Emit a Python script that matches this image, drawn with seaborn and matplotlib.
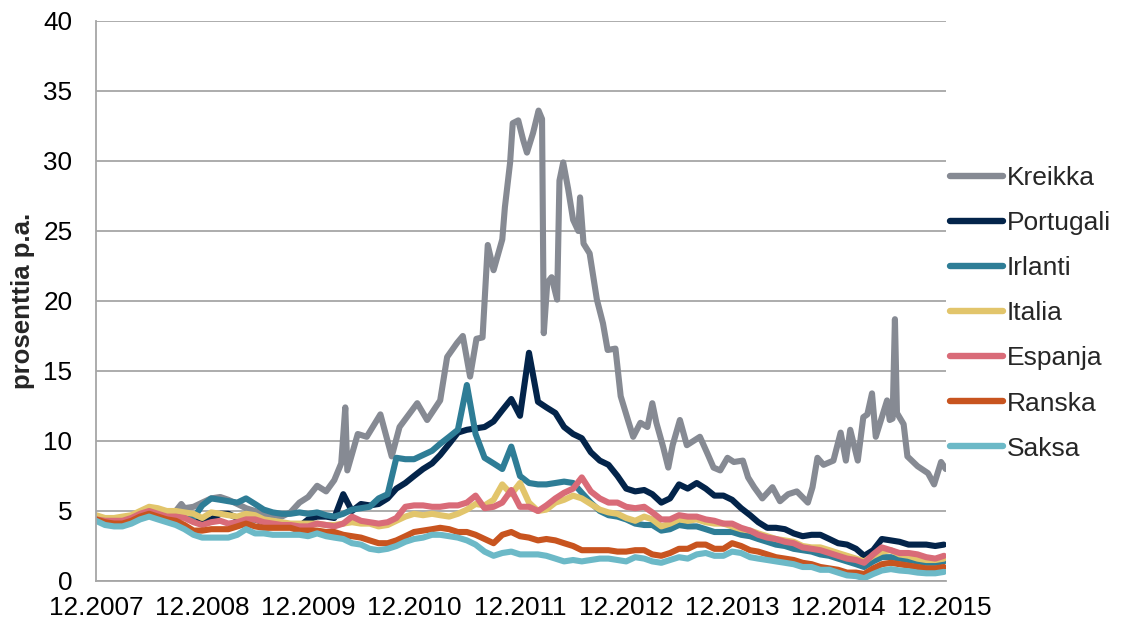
import matplotlib
matplotlib.use("Agg")
import matplotlib.pyplot as plt
import matplotlib.dates as mdates
import pandas as pd
import seaborn as sns

countries = ["Kreikka", "Portugali", "Irlanti", "Italia", "Espanja", "Ranska", "Saksa"]
colors = ["#868a93", "#03244a", "#2e7d96", "#e2c56b", "#d96b78", "#c8541f", "#6cb9c7"]

# monthly observations 12.2007 - 12.2015
months = pd.date_range("2007-12-01", "2015-12-01", freq="MS")

pt = [4.6, 4.4, 4.4, 4.5, 4.6, 4.9, 5.1, 5.0, 4.8, 4.8, 4.7, 4.5,
      4.3, 4.4, 4.8, 4.8, 4.5, 4.4, 4.4, 4.2, 4.1, 4.0, 3.9, 3.9,
      4.4, 4.6, 4.6, 4.5, 6.2, 5.0, 5.5, 5.4, 5.5, 5.9, 6.6, 7.0,
      7.5, 8.0, 8.4, 9.0, 9.8, 10.6, 10.8, 10.9, 11.0, 11.4, 12.2, 13.0,
      11.8, 16.3, 12.8, 12.4, 12.0, 11.0, 10.5, 10.2, 9.2, 8.6, 8.3, 7.5,
      6.6, 6.4, 6.5, 6.2, 5.6, 5.9, 6.9, 6.6, 7.0, 6.6, 6.1, 6.1,
      5.8, 5.2, 4.7, 4.2, 3.8, 3.8, 3.7, 3.4, 3.2, 3.3, 3.3, 3.0,
      2.7, 2.6, 2.3, 1.8, 2.2, 3.0, 2.9, 2.8, 2.6, 2.6, 2.6, 2.5, 2.6]

ie = [4.5, 4.4, 4.4, 4.5, 4.6, 4.8, 5.0, 4.9, 4.7, 4.7, 4.6, 4.5,
      5.4, 5.9, 5.8, 5.7, 5.6, 5.9, 5.5, 5.1, 4.9, 4.8, 4.8, 4.9,
      4.8, 4.9, 4.7, 4.6, 4.8, 5.1, 5.2, 5.3, 5.9, 6.2, 8.8, 8.7,
      8.7, 9.0, 9.3, 9.8, 10.3, 10.8, 14.0, 10.5, 8.8, 8.4, 8.0, 9.6,
      7.5, 7.0, 6.9, 6.9, 7.0, 7.1, 7.0, 6.3, 5.6, 5.0, 4.7, 4.6,
      4.4, 4.1, 4.0, 4.0, 3.6, 3.7, 4.0, 3.9, 3.9, 3.7, 3.5, 3.5,
      3.5, 3.3, 3.2, 3.0, 2.8, 2.6, 2.5, 2.3, 2.2, 2.1, 1.9, 1.8,
      1.6, 1.4, 1.2, 1.0, 1.4, 1.7, 1.7, 1.6, 1.5, 1.4, 1.3, 1.3, 1.4]

it = [4.7, 4.5, 4.5, 4.6, 4.7, 5.0, 5.3, 5.2, 5.0, 5.0, 4.9, 4.8,
      4.5, 4.9, 4.8, 4.7, 4.6, 4.8, 4.7, 4.4, 4.3, 4.2, 4.1, 4.1,
      4.1, 4.1, 4.0, 4.0, 4.1, 4.2, 4.1, 4.1, 3.9, 4.0, 4.3, 4.6,
      4.8, 4.7, 4.8, 4.7, 4.6, 4.8, 5.1, 5.5, 5.4, 5.8, 6.9, 6.2,
      7.0, 5.6, 5.0, 5.1, 5.6, 5.8, 6.1, 5.9, 5.5, 5.1, 4.9, 4.8,
      4.5, 4.3, 4.6, 4.4, 3.9, 4.1, 4.4, 4.3, 4.4, 4.2, 4.1, 4.1,
      3.9, 3.7, 3.6, 3.4, 3.2, 3.0, 2.9, 2.8, 2.5, 2.4, 2.4, 2.2,
      2.0, 1.8, 1.6, 1.4, 1.8, 2.1, 2.2, 1.9, 1.8, 1.6, 1.5, 1.5, 1.6]

es = [4.4, 4.3, 4.3, 4.3, 4.5, 4.8, 5.0, 4.8, 4.6, 4.6, 4.5, 4.2,
      4.0, 4.2, 4.3, 4.1, 4.2, 4.4, 4.4, 4.2, 4.1, 4.0, 4.0, 3.9,
      3.9, 4.1, 4.0, 3.9, 4.1, 4.6, 4.3, 4.2, 4.1, 4.2, 4.5, 5.3,
      5.4, 5.4, 5.3, 5.3, 5.4, 5.4, 5.6, 6.1, 5.2, 5.3, 5.6, 6.5,
      5.3, 5.3, 5.0, 5.4, 5.9, 6.3, 6.6, 7.4, 6.4, 5.9, 5.6, 5.6,
      5.3, 5.2, 5.3, 4.9, 4.4, 4.4, 4.7, 4.6, 4.6, 4.4, 4.3, 4.1,
      4.1, 3.8, 3.6, 3.3, 3.1, 3.0, 2.8, 2.7, 2.4, 2.3, 2.2, 2.0,
      1.8, 1.6, 1.5, 1.3, 1.9, 2.4, 2.2, 2.0, 2.0, 1.9, 1.7, 1.6, 1.8]

fr = [4.4, 4.2, 4.1, 4.1, 4.3, 4.6, 4.8, 4.6, 4.4, 4.3, 4.0, 3.6,
      3.6, 3.7, 3.7, 3.7, 3.9, 4.1, 3.9, 3.8, 3.8, 3.8, 3.8, 3.6,
      3.6, 3.6, 3.5, 3.5, 3.3, 3.2, 3.1, 2.9, 2.7, 2.7, 2.9, 3.2,
      3.5, 3.6, 3.7, 3.8, 3.7, 3.5, 3.5, 3.3, 3.0, 2.7, 3.3, 3.5,
      3.2, 3.1, 2.9, 3.0, 2.9, 2.7, 2.5, 2.2, 2.2, 2.2, 2.2, 2.1,
      2.1, 2.2, 2.2, 1.9, 1.8, 2.0, 2.3, 2.3, 2.6, 2.6, 2.3, 2.3,
      2.7, 2.5, 2.2, 2.1, 1.9, 1.7, 1.6, 1.5, 1.3, 1.2, 1.0, 0.9,
      0.8, 0.6, 0.6, 0.5, 0.9, 1.2, 1.3, 1.2, 1.1, 1.0, 0.9, 0.9, 1.0]

de = [4.3, 4.0, 3.9, 3.9, 4.1, 4.4, 4.6, 4.4, 4.2, 4.0, 3.7, 3.3,
      3.1, 3.1, 3.1, 3.1, 3.3, 3.7, 3.4, 3.4, 3.3, 3.3, 3.3, 3.3,
      3.2, 3.4, 3.2, 3.1, 3.0, 2.7, 2.6, 2.3, 2.2, 2.3, 2.5, 2.8,
      3.0, 3.1, 3.3, 3.3, 3.2, 3.1, 2.9, 2.6, 2.1, 1.8, 2.0, 2.1,
      1.9, 1.9, 1.9, 1.8, 1.6, 1.4, 1.5, 1.4, 1.5, 1.6, 1.6, 1.5,
      1.4, 1.7, 1.6, 1.4, 1.3, 1.5, 1.7, 1.6, 1.9, 2.0, 1.8, 1.8,
      2.1, 2.0, 1.7, 1.6, 1.5, 1.4, 1.3, 1.2, 1.0, 1.0, 0.8, 0.8,
      0.6, 0.4, 0.35, 0.2, 0.5, 0.75, 0.85, 0.75, 0.7, 0.6, 0.55, 0.55, 0.65]

# Greek series is much spikier, so it is read at irregular points
gr_dates = ["2007-12-01", "2008-01-01", "2008-02-01", "2008-03-01", "2008-04-01", "2008-05-01",
            "2008-06-01", "2008-07-01", "2008-08-01", "2008-09-01", "2008-09-20", "2008-10-01",
            "2008-11-01", "2008-12-01", "2009-01-01", "2009-02-01", "2009-03-01", "2009-04-01",
            "2009-05-01", "2009-06-01", "2009-07-01", "2009-08-01", "2009-09-01", "2009-10-01",
            "2009-11-01", "2009-12-01", "2010-01-01", "2010-02-01", "2010-03-01", "2010-03-25",
            "2010-04-08", "2010-04-15", "2010-05-21", "2010-06-21", "2010-08-07", "2010-09-15",
            "2010-10-12", "2010-12-12", "2011-01-15", "2011-03-01", "2011-03-25", "2011-04-28",
            "2011-05-18", "2011-06-12", "2011-07-04", "2011-07-25", "2011-08-12", "2011-09-01",
            "2011-10-01", "2011-10-10", "2011-10-28", "2011-11-06", "2011-11-25", "2011-12-12",
            "2011-12-25", "2012-01-15", "2012-02-03", "2012-02-15", "2012-02-21", "2012-03-04",
            "2012-03-19", "2012-04-07", "2012-04-15", "2012-04-28", "2012-05-15", "2012-06-01",
            "2012-06-19", "2012-06-25", "2012-07-07", "2012-07-28", "2012-08-22", "2012-09-12",
            "2012-09-28", "2012-10-25", "2012-11-12", "2012-12-07", "2012-12-25", "2013-01-19",
            "2013-02-12", "2013-03-01", "2013-03-15", "2013-04-07", "2013-04-25", "2013-05-10",
            "2013-06-04", "2013-06-28", "2013-08-12", "2013-09-07", "2013-09-28", "2013-10-21",
            "2013-11-15", "2013-12-07", "2014-01-07", "2014-01-25", "2014-02-15", "2014-03-15",
            "2014-04-19", "2014-05-15", "2014-06-12", "2014-07-12", "2014-08-19", "2014-09-04",
            "2014-09-21", "2014-10-12", "2014-11-15", "2014-12-10", "2014-12-28", "2015-01-12",
            "2015-02-07", "2015-02-26", "2015-03-12", "2015-03-28", "2015-04-10", "2015-05-04",
            "2015-05-19", "2015-05-28", "2015-06-07", "2015-06-15", "2015-06-22", "2015-07-15",
            "2015-07-28", "2015-09-01", "2015-10-07", "2015-10-28", "2015-11-21", "2015-12-07"]
gr_vals = [4.5, 4.4, 4.3, 4.4, 4.6, 4.8,
           5.0, 4.9, 4.8, 5.0, 5.5, 5.2,
           5.3, 5.6, 5.9, 6.0, 5.8, 5.5,
           5.2, 5.0, 4.8, 4.7, 4.6, 4.9,
           5.6, 6.0, 6.8, 6.4, 7.2, 8.4,
           12.4, 7.9, 10.5, 10.3, 11.9, 8.9,
           11.0, 12.7, 11.5, 12.9, 16.0, 17.0,
           17.5, 14.6, 17.3, 17.4, 24.0, 22.2,
           24.4, 26.7, 29.9, 32.7, 32.9, 31.5,
           30.6, 32.0, 33.6, 33.0, 17.7, 21.3,
           21.7, 20.1, 28.6, 29.9, 28.0, 25.8,
           25.0, 27.4, 24.1, 23.4, 20.1, 18.4,
           16.5, 16.6, 13.2, 11.5, 10.3, 11.3,
           11.0, 12.7, 11.3, 9.6, 8.1, 9.7,
           11.5, 9.7, 10.3, 9.1, 8.1, 7.9,
           8.8, 8.5, 8.6, 7.4, 6.7, 5.9,
           6.7, 5.7, 6.2, 6.4, 5.6, 6.7,
           8.8, 8.3, 8.6, 10.6, 8.6, 10.8,
           8.6, 11.7, 11.9, 13.4, 10.3, 11.9,
           12.9, 11.5, 11.6, 18.7, 12.0, 11.2,
           8.9, 8.2, 7.7, 6.9, 8.5, 8.0]

frames = [pd.DataFrame({"pvm": pd.to_datetime(gr_dates), "tuotto": gr_vals, "maa": "Kreikka"})]
for name, vals in [("Portugali", pt), ("Irlanti", ie), ("Italia", it),
                   ("Espanja", es), ("Ranska", fr), ("Saksa", de)]:
    frames.append(pd.DataFrame({"pvm": months, "tuotto": vals, "maa": name}))
df = pd.concat(frames, ignore_index=True)

sns.set_style("white")
plt.rcParams["font.family"] = ["Liberation Sans", "DejaVu Sans"]

fig = plt.figure(figsize=(11.21, 6.28), dpi=100)
ax = fig.add_axes([96 / 1121, 1 - 581 / 628, 850 / 1121, 560 / 628])

sns.lineplot(data=df, x="pvm", y="tuotto", hue="maa", hue_order=countries,
             palette=colors, linewidth=4.4, estimator=None, ax=ax,
             solid_capstyle="round", solid_joinstyle="round")

grid_col = "#a6a6a6"
ax.set_ylim(0, 40)
ax.set_yticks(range(0, 41, 5))
ax.set_xlim(pd.Timestamp("2007-12-01"), pd.Timestamp("2015-12-08"))
ax.set_xticks(pd.date_range("2007-12-01", "2015-12-01", freq="12MS"))
ax.xaxis.set_major_formatter(mdates.DateFormatter("%m.%Y"))
ax.yaxis.grid(True, color=grid_col, linewidth=1.3)
ax.set_axisbelow(True)
for side in ["top", "right"]:
    ax.spines[side].set_visible(False)
for side in ["left", "bottom"]:
    ax.spines[side].set_color(grid_col)
    ax.spines[side].set_linewidth(1.3)
ax.tick_params(axis="both", length=0, labelsize=18.8, colors="black")
ax.tick_params(axis="x", pad=11)
ax.tick_params(axis="y", pad=17)

ax.set_xlabel("")
ax.set_ylabel("prosenttia p.a.", fontsize=18.5, fontweight="bold")
ax.yaxis.set_label_coords(-0.072, 0.5)

handles, labels = ax.get_legend_handles_labels()
ax.get_legend().remove()
for h in handles:
    h.set_linewidth(4.6)
    h.set_solid_capstyle("round")
fig.legend(handles, labels, loc="upper left", bbox_to_anchor=(950 / 1121, 1 - 166 / 628),
           frameon=False, fontsize=19, handlelength=2.0, handletextpad=0.15,
           labelspacing=0.8, borderaxespad=0, borderpad=0)

fig.savefig("out.png", dpi=100)
